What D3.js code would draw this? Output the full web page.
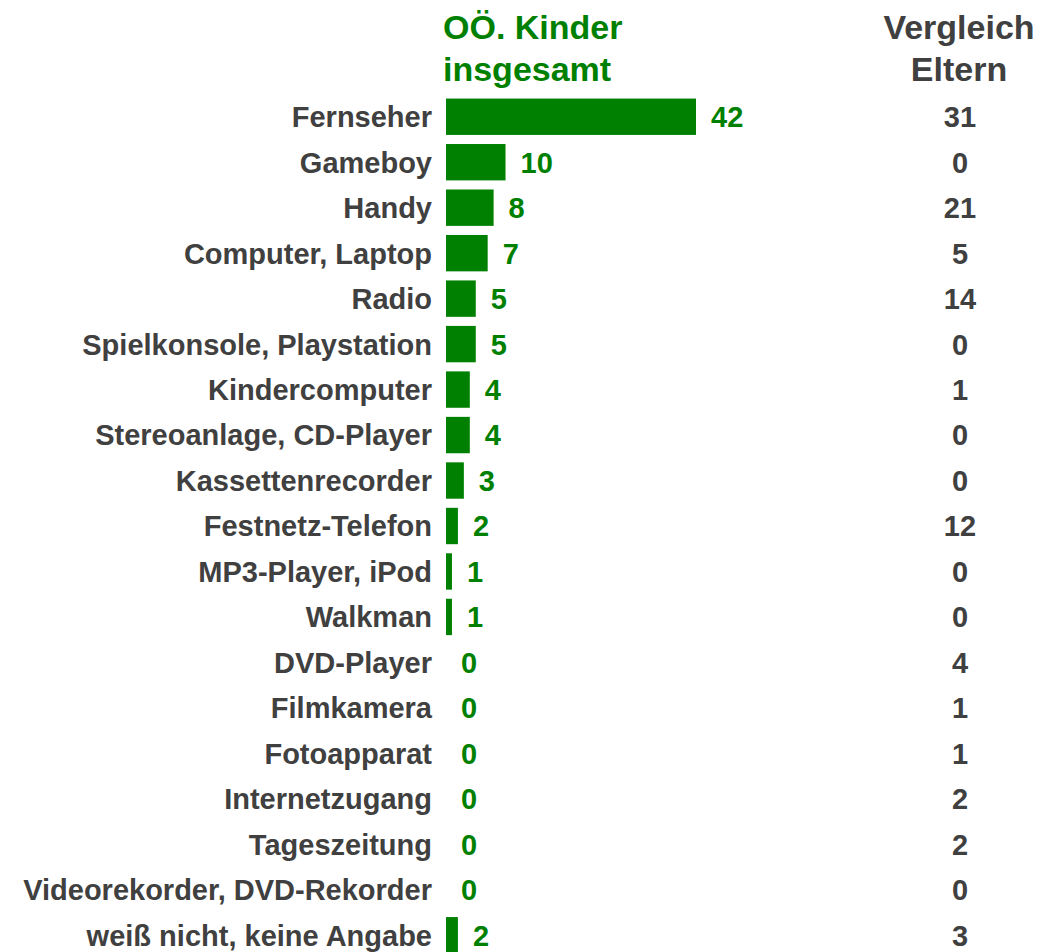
<!DOCTYPE html>
<html>
<head>
<meta charset="utf-8">
<script src="https://cdn.jsdelivr.net/npm/d3@7"></script>
<style>
  body { margin: 0; background: #fff; }
  text { font-family: "Liberation Sans", Arial, sans-serif; font-weight: bold; }
</style>
</head>
<body>
<svg id="chart" width="1041" height="952"></svg>
<script>
// ===== DATA =====
const categories = [
    'Fernseher', 'Gameboy', 'Handy', 'Computer, Laptop', 'Radio',
    'Spielkonsole, Playstation', 'Kindercomputer', 'Stereoanlage, CD-Player',
    'Kassettenrecorder', 'Festnetz-Telefon', 'MP3-Player, iPod', 'Walkman',
    'DVD-Player', 'Filmkamera', 'Fotoapparat', 'Internetzugang',
    'Tageszeitung', 'Videorekorder, DVD-Rekorder', 'weiß nicht, keine Angabe'
];
const kinder = [42, 10, 8, 7, 5, 5, 4, 4, 3, 2, 1, 1, 0, 0, 0, 0, 0, 0, 2];
const eltern = [31, 0, 21, 5, 14, 0, 1, 0, 0, 12, 0, 0, 4, 1, 1, 2, 2, 0, 3];
const headerKinder = ['OÖ. Kinder', 'insgesamt'];
const headerEltern = ['Vergleich', 'Eltern'];

// ===== CHART =====
const svg = d3.select('#chart');
const green = '#008000';
const grey = '#404040';
const fontSize = '29px';

const x0 = 446;
const x = d3.scaleLinear().domain([0, 42]).range([x0, 696]);
const y = d3.scaleBand()
    .domain(categories)
    .range([94, 958])
    .paddingInner(0.2)
    .paddingOuter(0.1);

const rows = categories.map((c, i) => ({ name: c, k: kinder[i], e: eltern[i] }));

// headers
svg.selectAll('.hk')
    .data(headerKinder)
    .join('text')
    .attr('x', 443)
    .attr('y', (d, i) => 39 + i * 42)
    .attr('fill', green)
    .style('font-size', '34px')
    .text(d => d);

svg.selectAll('.he')
    .data(headerEltern)
    .join('text')
    .attr('x', 959)
    .attr('y', (d, i) => 39 + i * 42)
    .attr('text-anchor', 'middle')
    .attr('fill', grey)
    .style('font-size', '34px')
    .text(d => d);

const g = svg.append('g');

g.selectAll('.bar')
    .data(rows)
    .join('rect')
    .attr('x', x0)
    .attr('y', d => y(d.name))
    .attr('width', d => x(d.k) - x0)
    .attr('height', y.bandwidth())
    .attr('fill', green);

g.selectAll('.cat')
    .data(rows)
    .join('text')
    .attr('x', 432)
    .attr('y', d => y(d.name) + y.bandwidth() / 2)
    .attr('dy', '0.36em')
    .attr('text-anchor', 'end')
    .attr('fill', grey)
    .style('font-size', fontSize)
    .text(d => d.name);

g.selectAll('.val')
    .data(rows)
    .join('text')
    .attr('x', d => x(d.k) + 15)
    .attr('y', d => y(d.name) + y.bandwidth() / 2)
    .attr('dy', '0.36em')
    .attr('fill', green)
    .style('font-size', fontSize)
    .text(d => d.k);

g.selectAll('.elt')
    .data(rows)
    .join('text')
    .attr('x', 960)
    .attr('y', d => y(d.name) + y.bandwidth() / 2)
    .attr('dy', '0.36em')
    .attr('text-anchor', 'middle')
    .attr('fill', grey)
    .style('font-size', fontSize)
    .text(d => d.e);
</script>
</body>
</html>
